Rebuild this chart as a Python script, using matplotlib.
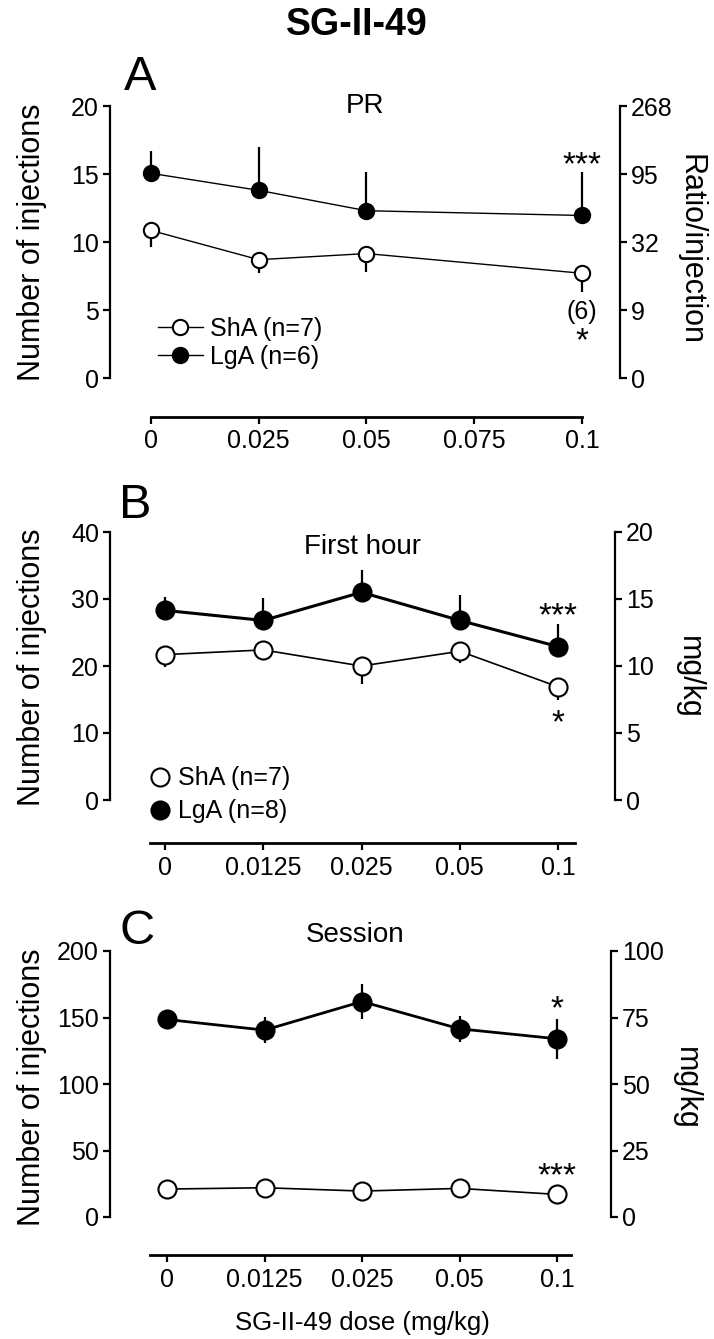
import matplotlib.pyplot as plt
from matplotlib.lines import Line2D

plt.rcParams["font.family"] = ["Liberation Sans", "DejaVu Sans"]

# ---- Panel A: PR ----
a_doses = [0, 0.025, 0.05, 0.1]
a_ticks = [0, 0.025, 0.05, 0.075, 0.1]
a_tick_labels = ["0", "0.025", "0.05", "0.075", "0.1"]
a_sha = [10.85, 8.7, 9.15, 7.7]
a_sha_err = [1.2, 1.0, 1.35, 1.35]
a_lga = [15.05, 13.8, 12.3, 11.95]
a_lga_err = [1.65, 3.2, 2.85, 3.2]
a_yticks = [0, 5, 10, 15, 20]
a_right_labels = ["0", "9", "32", "95", "268"]
a_notes = [("***", 15.6), ("(6)", 4.85), ("*", 2.7)]

# ---- Panel B: first hour ----
dose_labels = ["0", "0.0125", "0.025", "0.05", "0.1"]
b_sha = [21.7, 22.4, 20.0, 22.2, 16.9]
b_sha_err = [1.9, 1.2, 2.7, 1.7, 1.9]
b_lga = [28.3, 26.8, 31.0, 26.8, 22.9]
b_lga_err = [2.0, 3.4, 3.4, 3.8, 3.4]
b_yticks = [0, 10, 20, 30, 40]
b_right_labels = ["0", "5", "10", "15", "20"]
b_notes = [("***", 27.4), ("*", 11.4)]

# ---- Panel C: session ----
c_sha = [21, 22, 19.5, 21.5, 17]
c_sha_err = [3, 3, 3, 3, 3]
c_lga = [148.5, 140.5, 162, 141.5, 134]
c_lga_err = [7, 10, 13, 10, 15]
c_yticks = [0, 50, 100, 150, 200]
c_right_labels = ["0", "25", "50", "75", "100"]
c_notes = [("*", 156), ("***", 30)]

W, H = 714, 1339
fig = plt.figure(figsize=(W / 100, H / 100), dpi=100)


def px_axes(left, top, right, bottom):
    return fig.add_axes([left / W, 1 - bottom / H, (right - left) / W, (bottom - top) / H])


def style_axes(ax, xlim, yticks, xbounds, outward, xticks, xlabels, right_labels):
    ax.set_xlim(*xlim)
    ax.set_ylim(yticks[0], yticks[-1])
    for side in ["top", "right"]:
        ax.spines[side].set_visible(False)
    ax.spines["left"].set_bounds(yticks[0], yticks[-1])
    ax.spines["left"].set_linewidth(1.6)
    ax.spines["bottom"].set_position(("outward", outward))
    ax.spines["bottom"].set_bounds(*xbounds)
    ax.spines["bottom"].set_linewidth(2.0)
    ax.set_yticks(yticks)
    ax.set_xticks(xticks, labels=xlabels)
    ax.tick_params(axis="both", direction="out", length=5, width=1.6, labelsize=18)
    ax.tick_params(axis="y", pad=3)
    ax.tick_params(axis="x", pad=4)

    ax2 = ax.twinx()
    ax2.set_ylim(yticks[0], yticks[-1])
    for side in ["top", "left", "bottom"]:
        ax2.spines[side].set_visible(False)
    ax2.spines["right"].set_bounds(yticks[0], yticks[-1])
    ax2.spines["right"].set_linewidth(1.6)
    ax2.set_yticks(yticks, labels=right_labels)
    ax2.tick_params(axis="y", direction="out", length=5, width=1.6, labelsize=18, pad=3)
    return ax2


def draw_series(ax, x, sha, sha_err, lga, lga_err, ms, lw_sha, lw_lga, lga_both=False):
    zeros = [0] * len(x)
    ax.errorbar(x, sha, yerr=[sha_err, zeros], fmt="none", ecolor="black",
                elinewidth=1.6, capsize=0, zorder=2)
    lga_low = lga_err if lga_both else zeros
    ax.errorbar(x, lga, yerr=[lga_low, lga_err], fmt="none", ecolor="black",
                elinewidth=1.6, capsize=0, zorder=2)
    ax.plot(x, sha, "-o", color="black", mfc="white", mec="black", ms=ms, mew=1.5,
            lw=lw_sha, zorder=3, clip_on=False)
    ax.plot(x, lga, "-o", color="black", mfc="black", mec="black", ms=ms, mew=1.5,
            lw=lw_lga, zorder=3, clip_on=False)


def add_notes(ax, xpos, notes):
    for s, yv in notes:
        size = 24 if s.startswith("*") else 18
        ax.text(xpos, yv, s, ha="center", va="center", fontsize=size)


# ================= Panel A =================
axA = px_axes(110, 106, 619.5, 378)
axA2 = style_axes(axA, (-0.00951, 0.1087), a_yticks, (0, 0.1), 28, a_ticks, a_tick_labels,
                  a_right_labels)
draw_series(axA, a_doses, a_sha, a_sha_err, a_lga, a_lga_err, 11, 1.0, 1.0)
add_notes(axA, a_doses[-1], a_notes)
handlesA = [
    Line2D([], [], color="black", lw=1.0, marker="o", mfc="white", mec="black", ms=11, mew=1.5),
    Line2D([], [], color="black", lw=1.0, marker="o", mfc="black", mec="black", ms=11, mew=1.5),
]
axA.legend(handlesA, ["ShA (n=7)", "LgA (n=6)"], loc="upper left",
           bbox_to_anchor=(0.094, 0.225), frameon=False, fontsize=18,
           handlelength=1.8, handletextpad=0.3, labelspacing=0.15,
           borderpad=0, borderaxespad=0)
axA.text(0.5, 1.0, "PR", transform=axA.transAxes, ha="center", va="center", fontsize=20)

# ================= Panel B =================
xB = list(range(len(dose_labels)))
axB = px_axes(110, 532, 615, 800)
axB2 = style_axes(axB, (-0.56, 4.58), b_yticks, (-0.15, 4.17), 31, xB, dose_labels,
                  b_right_labels)
draw_series(axB, xB, b_sha, b_sha_err, b_lga, b_lga_err, 13, 1.2, 2.2)
add_notes(axB, xB[-1], b_notes)
handlesB = [
    Line2D([], [], ls="none", marker="o", mfc="white", mec="black", ms=13, mew=1.5),
    Line2D([], [], ls="none", marker="o", mfc="black", mec="black", ms=13, mew=1.5),
]
axB.legend(handlesB, ["ShA (n=7)", "LgA (n=8)"], loc="upper left",
           bbox_to_anchor=(0.08, 0.125), frameon=False, fontsize=18,
           handlelength=0.8, handletextpad=0.3, labelspacing=0.35,
           borderpad=0, borderaxespad=0)
axB.text(0.5, 0.944, "First hour", transform=axB.transAxes, ha="center", va="center",
         fontsize=20)

# ================= Panel C =================
axC = px_axes(110, 951, 611, 1217)
axC2 = style_axes(axC, (-0.585, 4.554), c_yticks, (-0.175, 4.14), 27.5, xB, dose_labels,
                  c_right_labels)
draw_series(axC, xB, c_sha, c_sha_err, c_lga, c_lga_err, 13, 1.2, 2.0, lga_both=True)
add_notes(axC, xB[-1], c_notes)
axC.text(0.49, 1.06, "Session", transform=axC.transAxes, ha="center", va="center",
         fontsize=20)

# ---- labels and titles ----
fig.text(357 / W, 1 - 25 / H, "SG-II-49", ha="center", va="center", fontsize=27,
         fontweight="bold")
for letter, xpx, ypx in [("A", 140, 77), ("B", 135, 505), ("C", 137, 932)]:
    fig.text(xpx / W, 1 - ypx / H, letter, ha="center", va="center", fontsize=35)

for ypx in [242, 667, 1087]:
    fig.text(32 / W, 1 - ypx / H, "Number of injections", rotation=90, ha="center",
             va="center", fontsize=22)
fig.text(690 / W, 1 - 250 / H, "Ratio/injection", rotation=270, ha="center", va="center",
         fontsize=22)
fig.text(689 / W, 1 - 677 / H, "mg/kg", rotation=270, ha="center", va="center", fontsize=22)
fig.text(686 / W, 1 - 1088 / H, "mg/kg", rotation=270, ha="center", va="center", fontsize=22)
fig.text(362 / W, 1 - 1323 / H, "SG-II-49 dose (mg/kg)", ha="center", va="center",
         fontsize=18.5)

fig.savefig("out.png", dpi=100)
